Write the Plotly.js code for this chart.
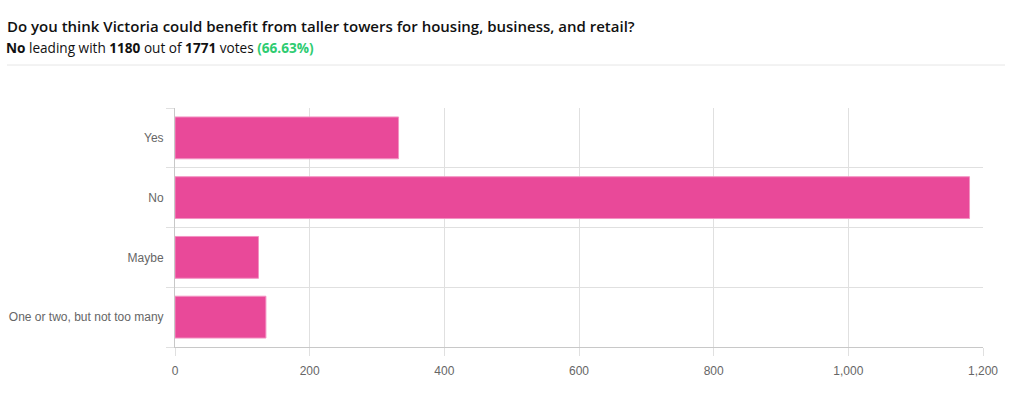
<!DOCTYPE html>
<html>
<head>
<meta charset="utf-8">
<script src="https://cdn.plot.ly/plotly-3.0.1.min.js"></script>
<style>
html,body{margin:0;padding:0;background:#fff;}
#chart{width:1012px;height:393px;}
</style>
</head>
<body>
<div id="chart"></div>
<script>
const categories = ["Yes", "No", "Maybe", "One or two, but not too many"];
const votes = [332, 1180, 124, 135];
const xTickVals = [0, 200, 400, 600, 800, 1000, 1200];
const xTickText = ["0", "200", "400", "600", "800", "1,000", "1,200"];
const titleText = "Do you think Victoria could benefit from taller towers for housing, business, and retail?";
const leader = "No", leaderVotes = 1180, totalVotes = 1771, leaderPct = "66.63%";

const positions = categories.map((c, i) => i);

const trace = {
  type: "bar",
  orientation: "h",
  x: votes,
  y: positions,
  width: 0.7,
  marker: {color: "#e94999", line: {color: "#f393c3", width: 1}},
  hoverinfo: "none"
};

const layout = {
  width: 1012,
  height: 393,
  margin: {l: 175, r: 29, t: 108, b: 46},
  paper_bgcolor: "#fff",
  plot_bgcolor: "#fff",
  showlegend: false,
  font: {family: "Liberation Sans, Arial, sans-serif", color: "#666", size: 12},
  title: {
    text: titleText,
    x: 7 / 1012, xanchor: "left", xref: "container",
    y: 1 - 27 / 393, yanchor: "middle", yref: "container",
    font: {family: "Open Sans, sans-serif", size: 15, color: "#111", weight: 600}
  },
  annotations: [{
    text: "<b>" + leader + "</b> leading with <b>" + leaderVotes + "</b> out of <b>" + totalVotes + "</b> votes <span style='color:#2ecc71'><b>(" + leaderPct + ")</b></span>",
    xref: "paper", yref: "paper",
    x: (7 - 175) / 808, xanchor: "left", xshift: -3,
    y: (347 - 47) / 239, yanchor: "middle",
    showarrow: false,
    font: {family: "Open Sans, sans-serif", size: 13.6, color: "#111"}
  }],
  shapes: [{
    type: "line", xref: "paper", yref: "paper",
    x0: (7 - 175) / 808, x1: (1005 - 175) / 808,
    y0: (347 - 65) / 239, y1: (347 - 65) / 239,
    line: {color: "#e6e6e6", width: 1}
  }],
  xaxis: {
    range: [0, 1200],
    tickvals: xTickVals,
    ticktext: xTickText,
    showgrid: true,
    gridcolor: "#e0e0e0",
    zeroline: false,
    showline: true,
    linecolor: "#c8c8c8",
    ticks: "outside",
    ticklen: 8,
    tickcolor: "#e0e0e0",
    ticklabelstandoff: 5,
    tickfont: {color: "#666", size: 12},
    fixedrange: true
  },
  yaxis: {
    range: [3.5, -0.5],
    tickvals: positions,
    ticktext: categories,
    showgrid: false,
    zeroline: false,
    showline: true,
    linecolor: "#c8c8c8",
    ticks: "",
    ticklabelstandoff: 8,
    tickfont: {color: "#666", size: 12},
    minor: {
      tick0: -0.5, dtick: 1,
      showgrid: true, gridcolor: "#e0e0e0",
      ticks: "outside", ticklen: 8, tickcolor: "#e0e0e0"
    },
    fixedrange: true
  }
};

Plotly.newPlot("chart", [trace], layout, {displayModeBar: false, staticPlot: true});
</script>
</body>
</html>
